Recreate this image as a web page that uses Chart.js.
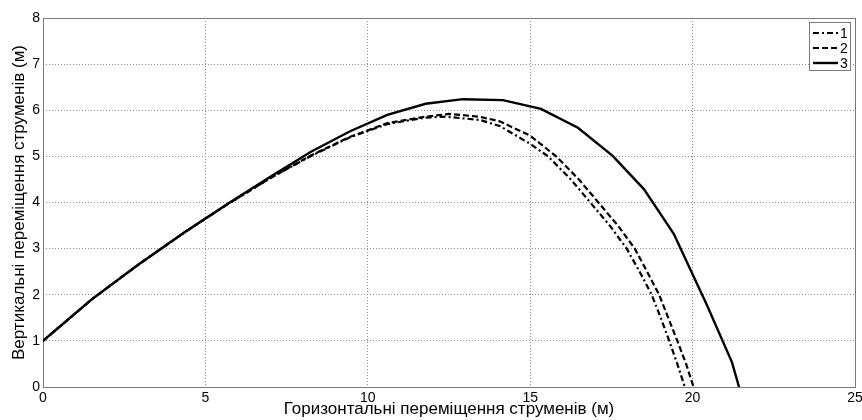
<!DOCTYPE html>
<html>
<head>
<meta charset="utf-8">
<script src="https://cdn.jsdelivr.net/npm/chart.js@4.4.1/dist/chart.umd.min.js"></script>
<style>
  html, body { margin: 0; padding: 0; background: #fff; }
  #wrap { width: 862px; height: 420px; }
</style>
</head>
<body>
<div id="wrap"><canvas id="line_chart" width="862" height="420"></canvas></div>
<script>
// horizontal / vertical displacement
var xs1 = [0, 1.5, 2.95, 4.35, 5.7, 7.0, 8.25, 9.44, 10.6, 11.78, 12.4, 13.45, 14.06, 15.0, 15.55, 16.25, 16.85, 17.45, 17.97, 18.37, 18.74, 19.02, 19.28, 19.53, 19.76];
var ys1 = [1, 1.9, 2.66, 3.35, 3.97, 4.53, 5.01, 5.41, 5.70, 5.84, 5.86, 5.79, 5.66, 5.27, 5.0, 4.5, 4.0, 3.5, 3.0, 2.5, 2.0, 1.5, 1.0, 0.5, 0];

var xs2 = [0, 1.5, 2.95, 4.35, 5.7, 7.0, 8.25, 9.44, 10.6, 11.78, 12.5, 13.45, 14.06, 15.0, 15.8, 16.5, 17.1, 17.7, 18.22, 18.6, 18.97, 19.25, 19.53, 19.8, 20.03];
var ys2 = [1, 1.9, 2.66, 3.35, 3.97, 4.53, 5.02, 5.42, 5.72, 5.86, 5.92, 5.86, 5.76, 5.45, 5.0, 4.5, 4.0, 3.5, 3.0, 2.5, 2.0, 1.5, 1.0, 0.5, 0];

var xs3 = [0, 1.5, 2.95, 4.35, 5.7, 7.0, 8.25, 9.44, 10.6, 11.78, 12.93, 14.16, 15.33, 16.47, 17.54, 18.5, 19.42, 20.44, 21.21, 21.43];
var ys3 = [1, 1.9, 2.66, 3.35, 3.98, 4.56, 5.1, 5.54, 5.9, 6.14, 6.24, 6.22, 6.03, 5.62, 5.01, 4.29, 3.32, 1.78, 0.54, 0];

var seriesNames = ["1", "2", "3"];
var xTicks = [0, 5, 10, 15, 20, 25];
var yTicks = [0, 1, 2, 3, 4, 5, 6, 7, 8];

var FONT = "'Liberation Sans', Arial, sans-serif";

function toPoints(xs, ys) {
    return xs.map(function (x, i) { return { x: x, y: ys[i] }; });
}

// box around the plot area (matlab style)
var boxPlugin = {
    id: 'box',
    beforeDatasetsDraw: function (chart) {
        var a = chart.chartArea, ctx = chart.ctx;
        ctx.save();
        ctx.strokeStyle = '#7a7a7a';
        ctx.lineWidth = 1;
        ctx.strokeRect(Math.round(a.left) + 0.5, Math.round(a.top) + 0.5,
            Math.round(a.right - a.left), Math.round(a.bottom - a.top));
        ctx.restore();
    }
};

// legend box in the top right corner
var legendPlugin = {
    id: 'boxLegend',
    afterDraw: function (chart) {
        var a = chart.chartArea, ctx = chart.ctx;
        var w = 41, h = 48;
        var x0 = a.right - w - 5, y0 = a.top + 4;
        ctx.save();
        ctx.fillStyle = '#fff';
        ctx.fillRect(x0, y0, w, h);
        ctx.strokeStyle = '#7a7a7a';
        ctx.lineWidth = 1;
        ctx.strokeRect(x0 + 0.5, y0 + 0.5, w, h);
        chart.data.datasets.forEach(function (ds, i) {
            var y = y0 + 11 + i * 15;
            ctx.beginPath();
            ctx.setLineDash(ds.borderDash || []);
            ctx.strokeStyle = '#000';
            ctx.lineWidth = ds.borderWidth;
            ctx.moveTo(x0 + 4, y);
            ctx.lineTo(x0 + 29, y);
            ctx.stroke();
            ctx.setLineDash([]);
            ctx.fillStyle = '#000';
            ctx.font = '14px ' + FONT;
            ctx.textBaseline = 'middle';
            ctx.fillText(ds.label, x0 + 31, y + 1);
        });
        ctx.restore();
    }
};

new Chart(document.getElementById("line_chart").getContext("2d"), {
    type: 'scatter',
    data: {
        datasets: [{
            label: seriesNames[0],
            data: toPoints(xs1, ys1),
            borderColor: '#000',
            borderWidth: 2.2,
            borderDash: [6, 3, 2, 3]
        }, {
            label: seriesNames[1],
            data: toPoints(xs2, ys2),
            borderColor: '#000',
            borderWidth: 2.2,
            borderDash: [6, 3]
        }, {
            label: seriesNames[2],
            data: toPoints(xs3, ys3),
            borderColor: '#000',
            borderWidth: 2.4
        }]
    },
    options: {
        responsive: false,
        animation: false,
        showLine: true,
        elements: {
            point: { radius: 0 },
            line: { tension: 0, fill: false }
        },
        layout: { padding: { left: 0, top: 18, right: 7, bottom: 0 } },
        plugins: {
            legend: { display: false },
            tooltip: { enabled: false }
        },
        scales: {
            x: {
                type: 'linear',
                min: 0,
                max: 25,
                afterBuildTicks: function (s) { s.ticks = xTicks.map(function (v) { return { value: v }; }); },
                afterFit: function (s) { s.height = 33; s.paddingRight = 0; s.paddingLeft = 0; },
                grid: { color: '#8c8c8c', lineWidth: 1, drawTicks: false },
                border: { display: false, dash: [1, 2] },
                ticks: { color: '#000', padding: 3, maxRotation: 0, font: { family: FONT, size: 14 } },
                title: {
                    display: true,
                    text: 'Горизонтальні переміщення струменів (м)',
                    color: '#000',
                    padding: { top: 0, bottom: 0 },
                    font: { family: FONT, size: 17 }
                }
            },
            y: {
                type: 'linear',
                min: 0,
                max: 8,
                afterBuildTicks: function (s) { s.ticks = yTicks.map(function (v) { return { value: v }; }); },
                afterFit: function (s) { s.width = 43; s.paddingTop = 0; s.paddingBottom = 0; },
                grid: { color: '#8c8c8c', lineWidth: 1, drawTicks: false },
                border: { display: false, dash: [1, 2] },
                ticks: { color: '#000', padding: 3, font: { family: FONT, size: 14 } },
                title: {
                    display: true,
                    text: 'Вертикальні переміщення струменів (м)',
                    color: '#000',
                    padding: { top: 9, bottom: 0 },
                    font: { family: FONT, size: 17 }
                }
            }
        }
    },
    plugins: [boxPlugin, legendPlugin]
});
</script>
</body>
</html>
